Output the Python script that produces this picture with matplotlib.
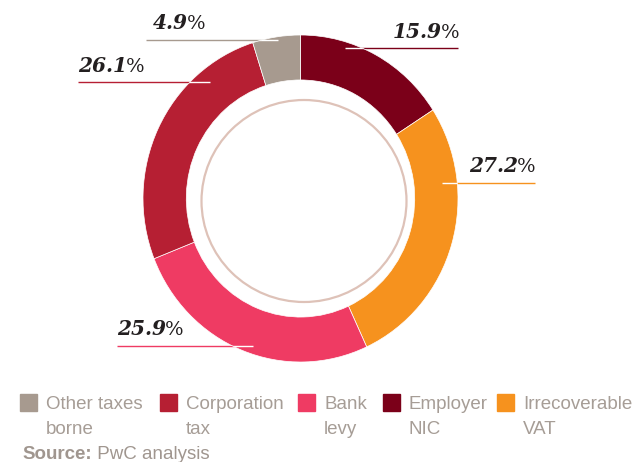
import matplotlib.pyplot as plt
from matplotlib.patches import Ellipse, Rectangle

# data (clockwise from 12 o'clock)
names = ['Employer NIC', 'Irrecoverable VAT', 'Bank levy', 'Corporation tax', 'Other taxes borne']
legend_lines = [('Employer', 'NIC'), ('Irrecoverable', 'VAT'), ('Bank', 'levy'),
                ('Corporation', 'tax'), ('Other taxes', 'borne')]
shares = [15.9, 27.2, 25.9, 26.1, 4.9]
colors = ['#7B0019', '#F6921E', '#EF3B63', '#B61F33', '#A79A8F']
legend_order = [4, 3, 2, 0, 1]

# layout in pixels of the 632x462 picture
W, H = 632, 462
cx, cy, rx, ry = 300.5, 198.5, 157.5, 163.5
# label left x, baseline y, leader x start, x end, y
label_pos = [(393, 38, 345, 458, 48),
             (469, 172, 442, 535, 183),
             (117, 335, 117, 253, 346),
             (78, 72, 78, 210, 82),
             (153, 29, 146, 278, 40)]
legend_x = [383, 497, 298, 160, 20]


def to_data(x, y):
    return (x - cx) / rx, (cy - y) / ry


fig = plt.figure(figsize=(6.32, 4.62), dpi=100)
ax = fig.add_axes([0, 0, 1, 1])
wedges, _ = ax.pie(shares, colors=colors, startangle=90, counterclock=False, radius=1,
                   wedgeprops=dict(width=0.275, edgecolor='white', linewidth=0.5))
ax.set_aspect('auto')
x0, y0 = to_data(0, 0)
x1, y1 = to_data(W, H)
ax.set_xlim(x0, x1)
ax.set_ylim(y1, y0)

# thin inner ring
ex, ey = to_data(304, 201)
ax.add_patch(Ellipse((ex, ey), 2 * 102.5 / rx, 2 * 101 / ry, fill=False,
                     edgecolor='#DEC2B8', lw=1.6))

num_font = dict(family='DejaVu Serif', size=14.5, weight='bold', style='italic', color='#231F20')
pct_font = dict(family='DejaVu Serif', size=14, color='#231F20')

for i, v in enumerate(shares):
    tx, tyb, lx0, lx1, ly = label_pos[i]
    a0, b = to_data(lx0, ly)
    a1, _b = to_data(lx1, ly)
    ax.plot([a0, a1], [b, b], color=colors[i], lw=1.0, zorder=0.5, solid_capstyle='butt')
    wl, = ax.plot([a0, a1], [b, b], color='white', lw=1.0, zorder=3, solid_capstyle='butt')
    wl.set_clip_path(wedges[i])
    px, py = to_data(tx, tyb)
    t = ax.text(px, py, f'{v:.1f}', ha='left', va='baseline', **num_font)
    ax.annotate('%', xy=(1, 0), xycoords=t, xytext=(-1, 0), textcoords='offset points',
                ha='left', va='bottom', **pct_font)

# legend
leg_color = '#A69D96'
for i in legend_order:
    sx = legend_x[i]
    fig.patches.append(Rectangle((sx / W, 1 - 411 / H), 17 / W, 17 / H,
                                 transform=fig.transFigure, color=colors[i]))
    fig.text((sx + 26) / W, 1 - 409 / H, legend_lines[i][0], ha='left', va='baseline',
             family='Liberation Sans', size=13.5, color=leg_color)
    fig.text((sx + 26) / W, 1 - 434 / H, legend_lines[i][1], ha='left', va='baseline',
             family='Liberation Sans', size=13.5, color=leg_color)

src = fig.text(22 / W, 1 - 459 / H, 'Source:', ha='left', va='baseline',
               family='Liberation Sans', size=13.5, weight='bold', color='#A0968F')
plt.annotate(' PwC analysis', xy=(1, 0), xycoords=src, ha='left', va='bottom',
             family='Liberation Sans', size=13.5, color='#A0968F')

fig.savefig('out.png', dpi=100, facecolor='white')
